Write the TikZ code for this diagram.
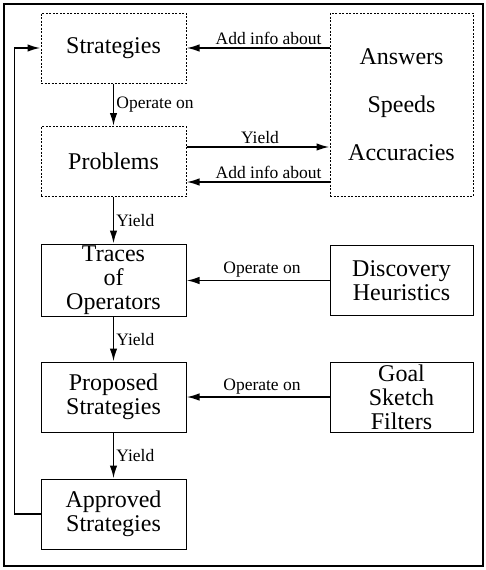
\documentclass[tikz,border=0pt]{standalone}
\usepackage{fontspec}
\setmainfont{Liberation Serif}
\usetikzlibrary{arrows.meta}
\tikzset{
  box/.style={draw, line width=1pt, minimum width=145pt, minimum height=70pt,
    align=center, inner sep=2pt, font=\fontsize{24}{24}\selectfont},
  dbox/.style={box, dash pattern=on 2pt off 1.5pt},
  flow/.style={line width=1.8pt, -{Latex[length=13pt,width=7.5pt]}},
  lbl/.style={font=\fontsize{17.5}{18}\selectfont, inner sep=2pt}
}
\begin{document}
\begin{tikzpicture}[x=1pt,y=-1pt]
\useasboundingbox (0,0) rectangle (486,570);
% frame
\draw[line width=1.3pt] (4,4) rectangle (483,566);

% left column
\node[dbox] (strat) at (113.5,48) {Strategies};
\node[dbox] (prob) at (113.5,161.5) {Problems};
\node[box] (trace) at (113.5,280.5) {Traces\\of\\Operators};
\node[box] (prop) at (113.5,397) {Proposed\\Strategies};
\node[box] (appr) at (113.5,514) {Approved\\Strategies};

% right column
\node[dbox, minimum width=143pt, minimum height=183pt,
      font=\fontsize{24}{48}\selectfont] (ans) at (401.5,104.5) {Answers\\Speeds\\Accuracies};
\node[box, minimum width=143pt] (disc) at (401.5,280.5) {Discovery\\Heuristics};
\node[box, minimum width=143pt] (goal) at (401.5,397.5) {Goal\\Sketch\\Filters};

% down the left column
\draw[flow] (strat) -- node[lbl,right] {Operate on} (prob);
\draw[flow] (prob) -- node[lbl,right] {Yield} (trace);
\draw[flow] (trace) -- node[lbl,right] {Yield} (prop);
\draw[flow] (prop) -- node[lbl,right] {Yield} (appr);

% across
\draw[flow] (ans.west |- strat) -- node[lbl,pos=0,anchor=south east,xshift=-5pt] {Add info about} (strat.east);
\draw[flow] (prob.east |- 0,147) -- node[lbl,above,xshift=2pt] {Yield} (ans.west |- 0,147);
\draw[flow] (ans.west |- 0,182) -- node[lbl,pos=0,anchor=south east,xshift=-5pt] {Add info about} (prob.east |- 0,182);
\draw[flow] (disc) -- node[lbl,above,xshift=4pt] {Operate on} (trace);
\draw[flow] (goal.west |- prop) -- node[lbl,above,xshift=4pt] {Operate on} (prop.east);

% feedback
\draw[flow] (appr.west) -- ++(-26,0) |- (strat.west);
\end{tikzpicture}
\end{document}
